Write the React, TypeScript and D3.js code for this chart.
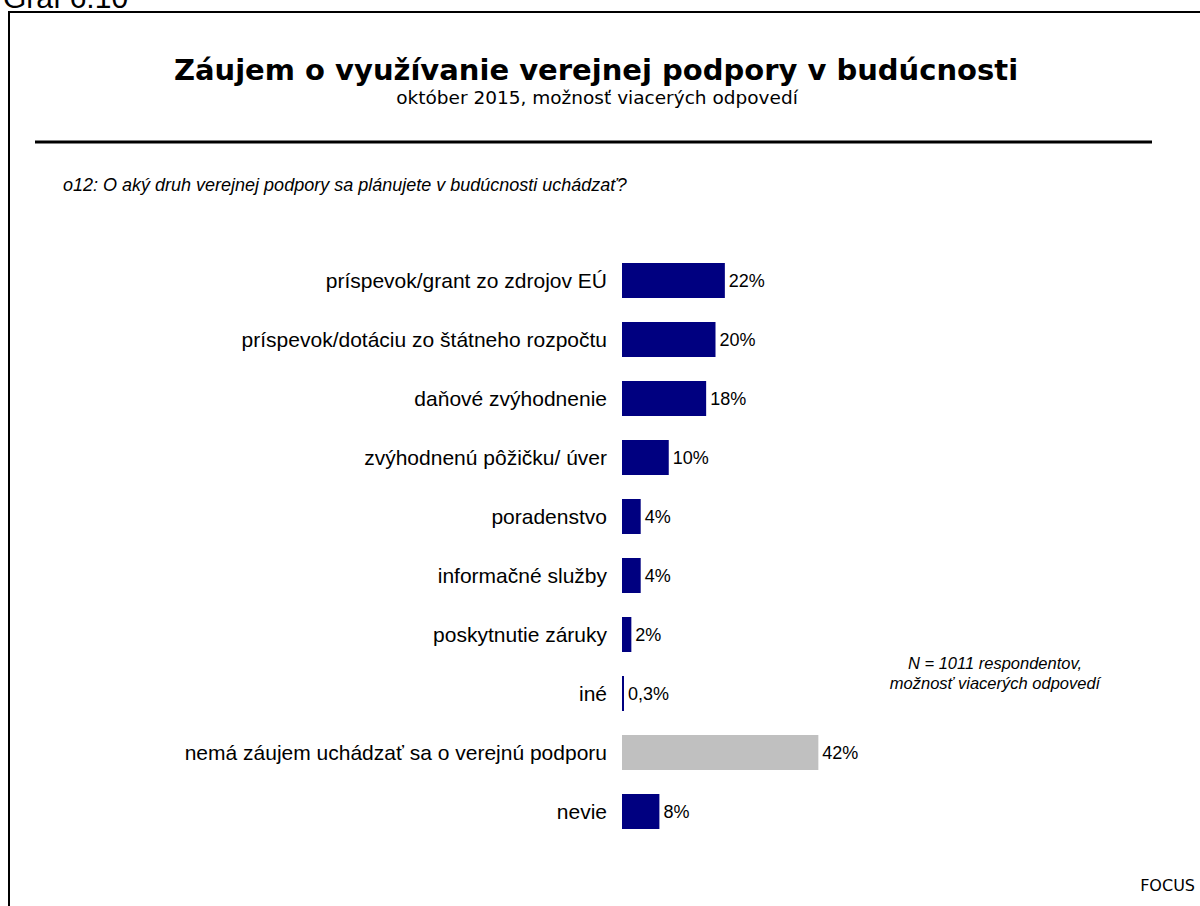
import React from "react";
import * as d3 from "d3";

const categories = [
  "príspevok/grant zo zdrojov EÚ",
  "príspevok/dotáciu zo štátneho rozpočtu",
  "daňové zvýhodnenie",
  "zvýhodnenú pôžičku/ úver",
  "poradenstvo",
  "informačné služby",
  "poskytnutie záruky",
  "iné",
  "nemá záujem uchádzať sa o verejnú podporu",
  "nevie",
];
const values = [22, 20, 18, 10, 4, 4, 2, 0.3, 42, 8];
const valueLabels = ["22%", "20%", "18%", "10%", "4%", "4%", "2%", "0,3%", "42%", "8%"];
const highlight = [false, false, false, false, false, false, false, false, true, false];

const W = 1200;
const H = 906;
const x0 = 622;
const pxPerPct = 4.675;

export default function App() {
  const x = d3.scaleLinear().domain([0, 42]).range([x0, x0 + 42 * pxPerPct]);
  const p = 24 / 59;
  const step = 59;
  const y = d3
    .scaleBand<string>()
    .domain(categories)
    .range([263 - p * step, 263 - p * step + step * (categories.length + p)])
    .paddingInner(p)
    .paddingOuter(p);
  const bw = y.bandwidth();
  return (
    <svg
      width={W}
      height={H}
      style={{ position: "absolute", left: 0, top: 0, background: "#fff" }}
    >
      <rect x={0} y={0} width={W} height={H} fill="#fff" />
      <text x={3} y={8} fontFamily="Liberation Sans, Arial, sans-serif" fontSize={30} fill="#000">
        Graf 6.10
      </text>
      <path d={`M9,906 V12 H1200`} fill="none" stroke="#000" strokeWidth={2} />
      <text
        x={596}
        y={80}
        textAnchor="middle"
        fontFamily="DejaVu Sans, Verdana, sans-serif"
        fontWeight="bold"
        fontSize={29}
        fill="#000"
      >
        Záujem o využívanie verejnej podpory v budúcnosti
      </text>
      <text
        x={597}
        y={104}
        textAnchor="middle"
        fontFamily="DejaVu Sans, Verdana, sans-serif"
        fontSize={18.5}
        fill="#000"
      >
        október 2015, možnosť viacerých odpovedí
      </text>
      <line x1={35} x2={1152} y1={142} y2={142} stroke="#000" strokeWidth={3} />
      <text
        x={63}
        y={191}
        fontFamily="Liberation Sans, Arial, sans-serif"
        fontStyle="italic"
        fontSize={18}
        fill="#000"
      >
        o12: O aký druh verejnej podpory sa plánujete v budúcnosti uchádzať?
      </text>
      {categories.map((c, i) => {
        const yy = y(c)!;
        return (
          <g key={c}>
            <text
              x={607}
              y={yy + bw / 2}
              dy="0.35em"
              textAnchor="end"
              fontFamily="Liberation Sans, Arial, sans-serif"
              fontSize={21}
              fill="#000"
            >
              {c}
            </text>
            <rect
              x={x(0)}
              y={yy}
              width={Math.max(2, x(values[i]) - x(0))}
              height={bw}
              fill={highlight[i] ? "#C0C0C0" : "#000080"}
            />
            <text
              x={Math.max(x(0) + 2, x(values[i])) + 4}
              y={yy + bw / 2}
              dy="0.35em"
              fontFamily="Liberation Sans, Arial, sans-serif"
              fontSize={18}
              fill="#000"
            >
              {valueLabels[i]}
            </text>
          </g>
        );
      })}
      <text
        x={995}
        y={669}
        textAnchor="middle"
        fontFamily="Liberation Sans, Arial, sans-serif"
        fontStyle="italic"
        fontSize={16.5}
        fill="#000"
      >
        <tspan x={995}>N = 1011 respondentov,</tspan>
        <tspan x={995} dy={20}>možnosť viacerých odpovedí</tspan>
      </text>
      <text
        x={1195}
        y={891}
        textAnchor="end"
        fontFamily="DejaVu Sans, Verdana, sans-serif"
        fontSize={16}
        fill="#000"
      >
        FOCUS
      </text>
    </svg>
  );
}
